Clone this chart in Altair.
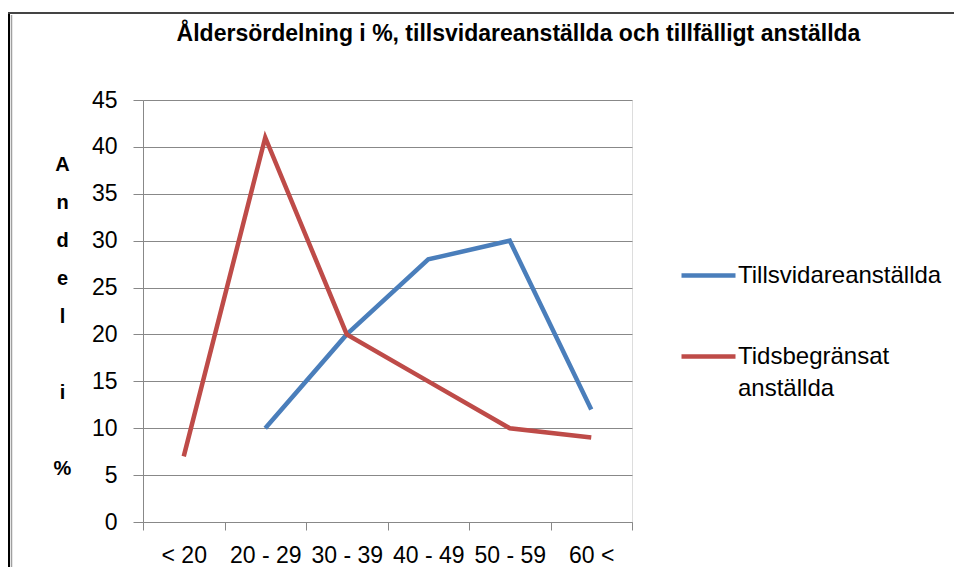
import altair as alt
import pandas as pd

categories = ["< 20", "20 - 29", "30 - 39", "40 - 49", "50 - 59", "60 <"]
tillsvidare = [None, 10, 20, 28, 30, 12]
tidsbegransat = [7, 41, 20, 15, 10, 9]
series_names = ["Tillsvidareanställda", "Tidsbegränsat anställda"]
y_ticks = [0, 5, 10, 15, 20, 25, 30, 35, 40, 45]

rows = []
for name, vals in zip(series_names, [tillsvidare, tidsbegransat]):
    for c, v in zip(categories, vals):
        if v is not None:
            rows.append({"Ålder": c, "Andel": v, "Serie": name})
df = pd.DataFrame(rows)

FONT = "Liberation Sans"
GRID = "#888888"
FS = 23
BLANK = "\u2800"

lines = alt.Chart(df).mark_line(strokeWidth=4.5, strokeCap="butt", strokeJoin="miter").encode(
    x=alt.X("Ålder:N", sort=categories,
            scale=alt.Scale(domain=categories, paddingInner=0, paddingOuter=0),
            axis=alt.Axis(title=None, labelAngle=0, tickBand="extent", grid=False,
                          domainColor=GRID, tickColor=GRID, tickSize=8,
                          labelFontSize=FS, labelFont=FONT, labelColor="black",
                          labelPadding=14)),
    y=alt.Y("Andel:Q", scale=alt.Scale(domain=[0, 45], nice=False),
            axis=alt.Axis(values=y_ticks, grid=True, gridColor=GRID, gridWidth=1,
                          domainColor=GRID, tickColor=GRID, tickSize=10,
                          labelFontSize=FS, labelFont=FONT, labelColor="black",
                          labelPadding=16,
                          title=["A", "n", "d", "e", "l", BLANK, "i", BLANK, "%"],
                          titleAngle=0, titleAlign="center", titleBaseline="alphabetic",
                          titleX=-81, titleY=70, titleLineHeight=38,
                          titleFontSize=20, titleFont=FONT, titleFontWeight="bold",
                          titleColor="black")),
    color=alt.Color("Serie:N", sort=series_names,
                    scale=alt.Scale(domain=series_names, range=["#4A7EBB", "#BE4B48"]),
                    legend=alt.Legend(title=None, orient="none", legendX=536, legendY=146,
                                      symbolType="stroke", symbolSize=2916, symbolStrokeWidth=4.5,
                                      labelFontSize=24, labelFont=FONT, labelColor="black",
                                      labelOffset=0, rowPadding=39, labelLimit=400,
                                      labelExpr="datum.label == 'Tidsbegränsat anställda' ? ['Tidsbegränsat', 'anställda'] : datum.label")),
)

frame_left = alt.Chart(pd.DataFrame({"a": [0]})).mark_rule(
    color="black", strokeWidth=2, clip=False
).encode(x=alt.value(-134), y=alt.value(-88), y2=alt.value(480))

frame_top = alt.Chart(pd.DataFrame({"a": [0]})).mark_rule(
    color="#444444", strokeWidth=2, clip=False
).encode(x=alt.value(-135), x2=alt.value(811), y=alt.value(-87))

frame_inner = alt.Chart(pd.DataFrame({"a": [0]})).mark_rule(
    color="#A0A0A0", strokeWidth=1.5, clip=False
).encode(x=alt.value(-131.5), y=alt.value(-85), y2=alt.value(480))

chart = alt.layer(lines, frame_left, frame_top, frame_inner).properties(
    width=489, height=422,
    title=alt.TitleParams(
        "Åldersördelning i %, tillsvidareanställda och tillfälligt anställda",
        font=FONT, fontSize=23, fontWeight="bold", color="black",
        anchor="middle", dx=131, offset=0, baseline="alphabetic", dy=53),
    autosize=alt.AutoSizeParams(type="none"),
    padding={"left": 135, "top": 92, "right": 322, "bottom": 45},
).configure_view(stroke=None).configure(
    background="white",
    style={"guide-label": {"lineHeight": 32}}
)

chart.save("out.html", embed_options={"renderer": "svg", "actions": False})
